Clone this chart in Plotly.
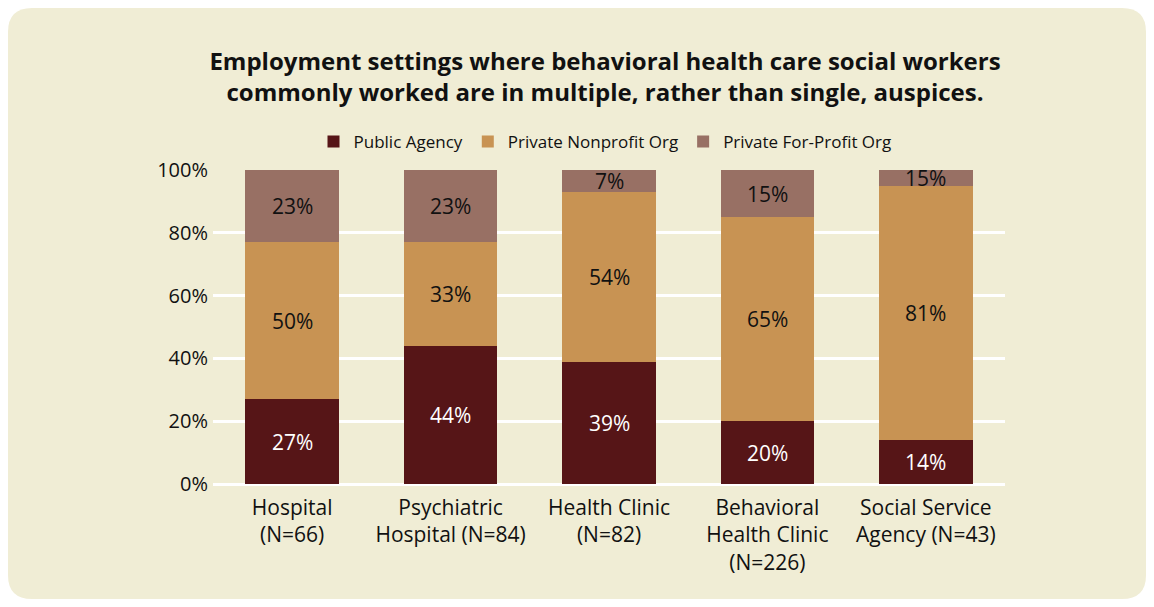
import plotly.graph_objects as go

categories = ["Hospital<br>(N=66)", "Psychiatric<br>Hospital (N=84)", "Health Clinic<br>(N=82)",
              "Behavioral<br>Health Clinic<br>(N=226)", "Social Service<br>Agency (N=43)"]
series_names = ["Public Agency", "Private Nonprofit Org", "Private For-Profit Org"]
public_agency = [27, 44, 39, 20, 14]
private_nonprofit = [50, 33, 54, 65, 81]
private_forprofit = [23, 23, 7, 15, 15]
colors = ["#561517", "#C89353", "#987064"]
label_colors = ["white", "#111111", "#111111"]
tick_values = [0, 20, 40, 60, 80, 100]
tick_labels = [f"{v}%" for v in tick_values]

# page body has an 8px margin; keep the figure inside the window
OFF = 8
W, H = 1154 - 2 * OFF, 607 - 2 * OFF
L = 213 - OFF
T = 170 - OFF
R = W - (1005 - OFF)
B = H - (484 - OFF)
pw, ph = W - L - R, H - T - B

def px_x(x):
    return (x - L) / pw

def px_y(y):
    return (H - B - y) / ph

fig = go.Figure()
series = [public_agency, private_nonprofit, private_forprofit]
for name, vals, col in zip(series_names, series, colors):
    fig.add_trace(go.Bar(x=categories, y=vals, name=name, marker=dict(color=col, line=dict(width=0)),
                         hoverinfo="y+name"))

# data labels, centred in the visible part of each segment
annotations = []
cum = [0] * len(categories)
for vals, lc in zip(series, label_colors):
    for i, v in enumerate(vals):
        lo = min(cum[i], 100)
        hi = min(cum[i] + v, 100)
        annotations.append(dict(x=categories[i], y=(lo + hi) / 2, xref="x", yref="y",
                                text=f"{v}%", showarrow=False,
                                font=dict(size=21, color=lc, family="Open Sans")))
        cum[i] += v

# rounded card background
x0, x1, y0, y1, r = 0, W, 0, H, 24
path = (f"M {px_x(x0 + r)},{px_y(y0)} L {px_x(x1 - r)},{px_y(y0)} "
        f"Q {px_x(x1)},{px_y(y0)} {px_x(x1)},{px_y(y0 + r)} "
        f"L {px_x(x1)},{px_y(y1 - r)} Q {px_x(x1)},{px_y(y1)} {px_x(x1 - r)},{px_y(y1)} "
        f"L {px_x(x0 + r)},{px_y(y1)} Q {px_x(x0)},{px_y(y1)} {px_x(x0)},{px_y(y1 - r)} "
        f"L {px_x(x0)},{px_y(y0 + r)} Q {px_x(x0)},{px_y(y0)} {px_x(x0 + r)},{px_y(y0)} Z")

fig.update_layout(
    width=W, height=H,
    margin=dict(l=L, r=R, t=T, b=B),
    paper_bgcolor="white",
    plot_bgcolor="rgba(0,0,0,0)",
    barmode="stack",
    bargap=0.41,
    font=dict(family="Open Sans", color="#111111"),
    title=dict(text="<b>Employment settings where behavioral health care social workers<br>"
                    "commonly worked are in multiple, rather than single, auspices.</b>",
               x=(605 - OFF) / W, xanchor="center", y=1 - (70 - OFF) / H, yanchor="middle",
               font=dict(size=24, family="Open Sans", color="#111111")),
    legend=dict(orientation="h", x=px_x(605 - OFF), xanchor="center", y=px_y(142 - OFF),
                yanchor="middle", font=dict(size=17, color="#111111"), bgcolor="rgba(0,0,0,0)",
                itemwidth=30, traceorder="normal", itemclick=False),
    xaxis=dict(showgrid=False, showline=False, ticks="", tickfont=dict(size=21),
               ticklabelstandoff=9),
    yaxis=dict(range=[0, 100], tickvals=tick_values, ticktext=tick_labels, showgrid=True,
               gridcolor="white", gridwidth=2.5, zeroline=True, zerolinecolor="white",
               zerolinewidth=2.5, showline=False, ticks="", tickfont=dict(size=20),
               ticklabelstandoff=4),
    shapes=[dict(type="path", path=path, xref="paper", yref="paper", layer="below",
                 fillcolor="#F0EDD5", line=dict(width=0))],
    annotations=annotations,
)

fig.write_html("out.html")
